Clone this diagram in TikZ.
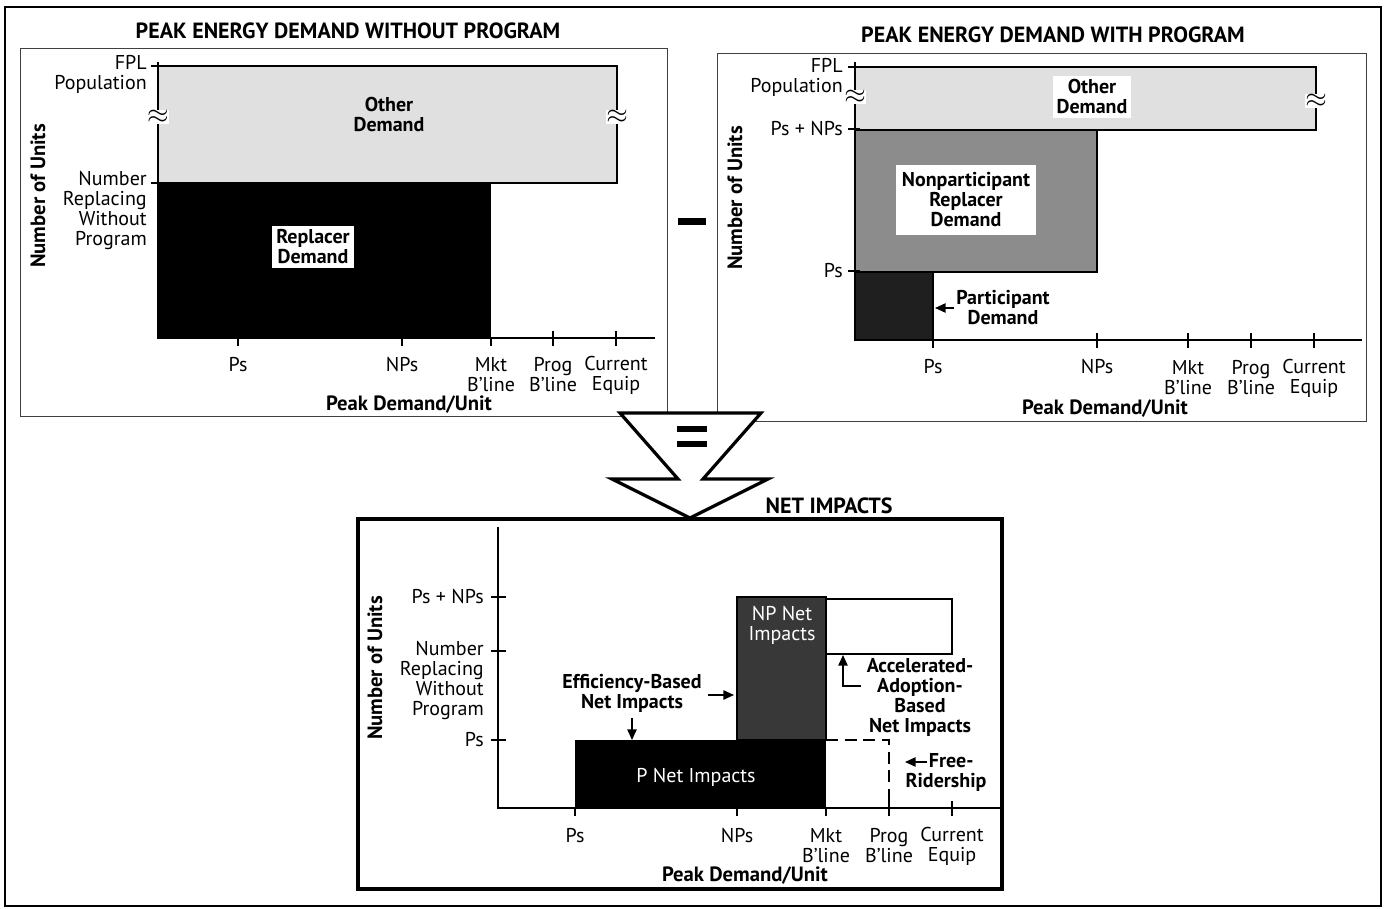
\documentclass[tikz,border=0pt]{standalone}
\usepackage{fontspec}
\setmainfont{PT Sans}
\usetikzlibrary{arrows.meta}
\tikzset{
  panelbox/.style={draw=black!75, line width=0.7pt},
  axisline/.style={line width=1pt},
  tickline/.style={line width=0.9pt},
  lab/.style={align=center, inner sep=0pt},
  ylab/.style={align=right, anchor=east, inner sep=0pt},
  boldlab/.style={align=center, inner sep=0pt, font=\fontsize{15}{15}\selectfont\bfseries},
  titlelab/.style={inner sep=0pt, font=\fontsize{16.5}{16}\selectfont\bfseries},
  axtitle/.style={inner sep=0pt, font=\fontsize{15.5}{15}\selectfont\bfseries},
  whitebox/.style={fill=white, align=center, font=\fontsize{15}{15}\selectfont\bfseries},
  brk/.style={fill=white, inner sep=0pt, font=\fontsize{20}{20}\selectfont},
  ptr/.style={-{Triangle[length=8pt,width=7pt]}, line width=1.2pt},
  othfill/.style={fill=black!12, draw=black, line width=1pt},
}
\begin{document}
\begin{tikzpicture}[x=0.75pt,y=-0.75pt,font=\fontsize{15}{15}\selectfont]
\useasboundingbox (0,0) rectangle (1384,909);
\draw[line width=1.8pt] (5,7) rectangle (1381,906);

\draw[panelbox] (20,48) rectangle (667,416);
\node[titlelab] (tA) at (348,31) {PEAK ENERGY DEMAND WITHOUT PROGRAM};
\draw[othfill] (158,66) rectangle (617,183);
\fill[black] (158,183) rectangle (491,338);
\draw[axisline] (158,62) -- (158,338) -- (655,338);
\foreach \yy in {66,183} \draw[tickline] (151,\yy) -- (163,\yy);
\foreach \xx in {238,402,491} \draw[tickline] (\xx,338) -- (\xx,346);
\foreach \xx in {553,616} \draw[tickline] (\xx,331) -- (\xx,346);
\node[brk] (bA1) at (158,117) {$\approx$};
\node[brk] (bA2) at (617,117) {$\approx$};
\node[boldlab] (odA) at (389,115) {Other\\Demand};
\node[whitebox, inner sep=3pt] (rdA) at (313,247) {Replacer\\Demand};
\node[ylab] (fplA) at (147,74) {FPL\\Population};
\node[ylab] (nrA) at (147,211) {Number\\Replacing\\Without\\Program};
\node[rotate=90, axtitle] (nuA) at (38,196) {Number of Units};
\node[lab] (xA1) at (238,365) {Ps};
\node[lab] (xA2) at (402,365) {NPs};
\node[lab] (xA3) at (491,375) {Mkt\\B'line};
\node[lab] (xA4) at (553,375) {Prog\\B'line};
\node[lab] (xA5) at (616,375) {Current\\Equip};
\node[axtitle] (pdA) at (409,405) {Peak Demand/Unit};

\draw[panelbox] (717,53) rectangle (1366,421);
\node[titlelab] (tB) at (1053,35) {PEAK ENERGY DEMAND WITH PROGRAM};
\draw[othfill] (855,67) rectangle (1316,130);
\draw[fill=black!45, draw=black, line width=1pt] (855,130) rectangle (1097,272);
\draw[fill=black!88, draw=black, line width=1pt] (855,272) rectangle (933,340);
\draw[axisline] (855,62) -- (855,340) -- (1362,340);
\foreach \yy in {67,129,271} \draw[tickline] (848,\yy) -- (860,\yy);
\draw[tickline] (933,340) -- (933,348);
\foreach \xx in {1097,1188,1251,1314} \draw[tickline] (\xx,333) -- (\xx,348);
\node[brk] (bB1) at (855,97) {$\approx$};
\node[brk] (bB2) at (1316,101) {$\approx$};
\node[whitebox, inner sep=3pt] (odB) at (1092,97) {Other\\Demand};
\node[whitebox, minimum width=105pt, minimum height=52pt, inner sep=2pt] (npB) at (966,200) {Nonparticipant\\Replacer\\Demand};
\node[boldlab] (pdemB) at (1003,308) {Participant\\Demand};
\coordinate (pdtip) at (935,308);
\draw[ptr] (pdemB.west) ++(-2,0) -- (pdtip);
\node[ylab] (fplB) at (843,77) {FPL\\Population};
\node[ylab] (pnB) at (843,129) {Ps + NPs};
\node[ylab] (psB) at (843,271) {Ps};
\node[rotate=90, axtitle] (nuB) at (735,198) {Number of Units};
\node[lab] (xB1) at (933,367) {Ps};
\node[lab] (xB2) at (1097,367) {NPs};
\node[lab] (xB3) at (1188,378) {Mkt\\B'line};
\node[lab] (xB4) at (1251,378) {Prog\\B'line};
\node[lab] (xB5) at (1314,378) {Current\\Equip};
\node[axtitle] (pdB) at (1105,409) {Peak Demand/Unit};

\fill[black] (678,218) rectangle (706,225);

\draw[line width=2.4pt, fill=white, line join=miter]
  (620,413) -- (761,413) -- (703,479) -- (768,479) -- (690,518) -- (612,479) -- (678,479) -- cycle;
\fill[black] (677,426) rectangle (707,432);
\fill[black] (677,441) rectangle (707,447);

\node[titlelab] (tC) at (829,506) {NET IMPACTS};
\fill[black] (575,740) rectangle (826,808);
\draw[fill=black!78, draw=black, line width=0.8pt] (737,597) rectangle (826,740);
\draw[line width=1pt, fill=white] (826,599) rectangle (952,654);
\draw[line width=1.2pt, dash pattern=on 9pt off 5pt] (826,740) -- (889,740) -- (889,808);
\draw[axisline] (498,527) -- (498,808) -- (1000,808);
\foreach \yy in {597,651,740} \draw[tickline] (491,\yy) -- (506,\yy);
\foreach \xx in {575,737,826} \draw[tickline] (\xx,808) -- (\xx,816);
\foreach \xx in {889,952} \draw[tickline] (\xx,801) -- (\xx,816);
\draw[line width=2.6pt] (358,519) rectangle (1002,889);
\node[lab, text=white] (pni) at (696,777) {P Net Impacts};
\node[lab, text=white] (npni) at (782,625) {NP Net\\Impacts};
\node[boldlab] (eff) at (632,693) {Efficiency-Based\\Net Impacts};
\coordinate (effR) at (734,695);
\coordinate (effD) at (632,740);
\draw[ptr] (708,695) -- (effR);
\draw[ptr] (632,718) -- (effD);
\node[boldlab] (acc) at (920,697) {Accelerated-\\Adoption-\\Based\\Net Impacts};
\coordinate (accT) at (843,655);
\draw[ptr] (861,686) -- (843,686) -- (accT);
\node[boldlab] (fr) at (946,772) {\hphantom{x}Free-\\Ridership};
\coordinate (frT) at (905,762);
\draw[ptr] (927,762) -- (frT);
\node[ylab] (pnC) at (484,597) {Ps + NPs};
\node[ylab] (nrC) at (484,681) {Number\\Replacing\\Without\\Program};
\node[ylab] (psC) at (484,740) {Ps};
\node[rotate=90, axtitle] (nuC) at (375,668) {Number of Units};
\node[lab] (xC1) at (575,836) {Ps};
\node[lab] (xC2) at (737,836) {NPs};
\node[lab] (xC3) at (826,846) {Mkt\\B'line};
\node[lab] (xC4) at (889,846) {Prog\\B'line};
\node[lab] (xC5) at (952,846) {Current\\Equip};
\node[axtitle] (pdC) at (745,876) {Peak Demand/Unit};
\end{tikzpicture}
\end{document}
